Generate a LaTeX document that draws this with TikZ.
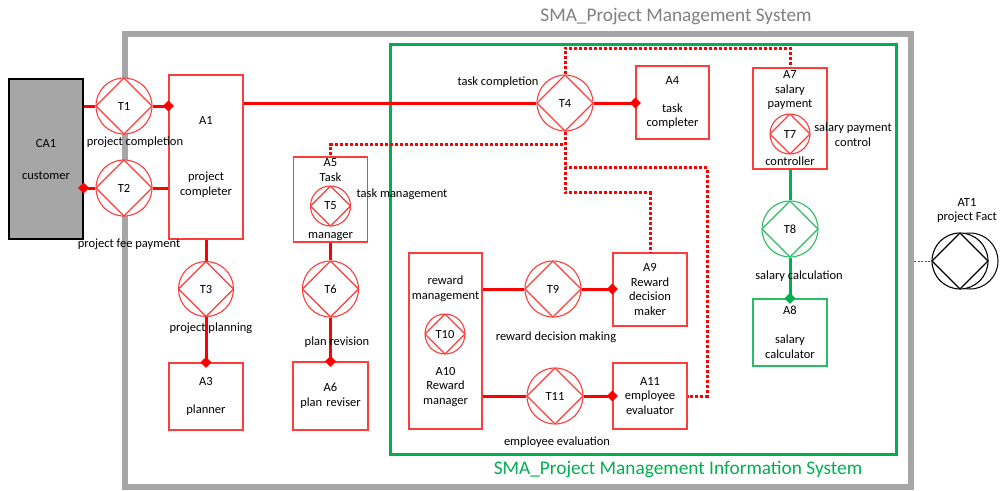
\documentclass[tikz,border=0pt]{standalone}
\usepackage{fontspec}
\setmainfont{Carlito}
\usetikzlibrary{arrows.meta}
\definecolor{sred}{RGB}{255,0,0}
\definecolor{bred}{RGB}{255,60,60}
\definecolor{sgreen}{RGB}{0,176,80}
\definecolor{lgreen}{RGB}{40,190,100}
\definecolor{sgray}{RGB}{166,166,166}
\definecolor{tgray}{RGB}{128,128,128}
\begin{document}
\begin{tikzpicture}[x=1pt,y=-1pt,
  font=\fontsize{12.5}{14.5}\selectfont,
  ent/.style={draw=bred, line width=1.1pt, fill=white, inner sep=0pt, align=center, text width=72pt},
  trans/.style={circle, draw=#1, line width=1.1pt, fill=white, inner sep=0pt,
    path picture={\draw[#1, line width=1.1pt] (path picture bounding box.north) -- (path picture bounding box.east) -- (path picture bounding box.south) -- (path picture bounding box.west) -- cycle;}},
  conn/.style={sred, line width=3pt},
  gconn/.style={sgreen, line width=3pt},
  dia/.style={-{Diamond[length=11pt,width=11pt]}, shorten >=-5.5pt},
  dotconn/.style={sred, line width=3pt, dash pattern=on 3pt off 2pt},
  lbl/.style={inner sep=0pt, align=center}]
\useasboundingbox (0,0) rectangle (1001,490);
% system boundaries
\draw[sgray, line width=6pt] (125,34) rectangle (911,487);
\draw[sgreen, line width=3pt] (390.5,44.5) rectangle (896.5,454);
\node[lbl, text=tgray, font=\fontsize{19.3}{22}\selectfont] (title) at (676,17) {SMA\_Project Management System};
\node[lbl, text=sgreen, font=\fontsize{19.3}{22}\selectfont] (gtitle) at (678,469) {SMA\_Project Management Information System};

% actor boxes
\node[draw=black, fill=sgray, line width=1.3pt, inner sep=0pt, align=center, minimum width=74pt, minimum height=160pt] (CA1) at (46,159) {CA1\\[17.5pt]customer};
\node[ent, minimum width=74pt, minimum height=164pt] (A1) at (206,157) {A1\\[41.5pt]project\\completer};
\node[ent, minimum width=74pt, minimum height=67pt] (A3) at (206,396.5) {A3\\[13.5pt]planner};
\node[ent, minimum width=75pt, minimum height=68pt] (A6) at (330.5,396) {A6\\plan reviser};
\node[ent, minimum width=73pt, minimum height=73pt] (A4) at (672.5,102.5) {A4\\[13.5pt]task\\completer};
\node[ent, minimum width=74pt, minimum height=85pt] (A5) at (330.5,199.5) {A5\\Task\\[42.5pt]manager};
\node[ent, minimum width=74pt, minimum height=101pt] (A7) at (790,118.5) {A7\\salary\\payment\\[43.5pt]controller};
\node[ent, draw=lgreen, minimum width=74pt, minimum height=67pt] (A8) at (790,332.5) {A8\\[14.5pt]salary\\calculator};
\node[ent, minimum width=74pt, minimum height=73pt] (A9) at (650,289.5) {A9\\Reward\\decision\\maker};
\node[ent, minimum width=73pt, minimum height=176pt] (A10) at (445.5,341) {reward\\management\\[61.5pt]A10\\Reward\\manager};
\node[ent, minimum width=74pt, minimum height=66pt] (A11) at (650,396) {A11\\employee\\evaluator};

% transactions
\node[trans=bred, minimum size=56pt] (T1) at (124,106) {T1};
\node[trans=bred, minimum size=56pt] (T2) at (124,188) {T2};
\node[trans=bred, minimum size=55pt] (T3) at (206,289) {T3};
\node[trans=bred, minimum size=56pt] (T4) at (565,103) {T4};
\node[trans=bred, minimum size=40pt] (T5) at (330.5,206) {T5};
\node[trans=bred, minimum size=56pt] (T6) at (330.5,289) {T6};
\node[trans=bred, minimum size=40pt] (T7) at (790,134) {T7};
\node[trans=lgreen, minimum size=56pt] (T8) at (790,229) {T8};
\node[trans=bred, minimum size=56pt] (T9) at (553,289) {T9};
\node[trans=bred, minimum size=40pt] (T10) at (445,334) {T10};
\node[trans=bred, minimum size=56pt] (T11) at (555,396) {T11};
\node[circle, draw=black, line width=1pt, inner sep=0pt, minimum size=56pt] (AT1b) at (970,261) {};
\node[trans=black, minimum size=56pt] (AT1) at (960,261) {};

% connectors
\draw[conn] (T1.west -| CA1.east) -- (T1.west);
\draw[conn, dia] (T1.east) -- (T1.east -| A1.west);
\draw[conn, dia] (T2.west) -- (T2.west -| CA1.east);
\draw[conn] (T2.east) -- (T2.east -| A1.west);
\draw[conn] (T4.west -| A1.east) -- (T4.west);
\draw[conn, dia] (T4.east) -- (T4.east -| A4.west);
\draw[conn] (A1.south) -- (T3.north);
\draw[conn, dia] (T3.south) -- (A3.north);
\draw[conn] (A5.south) -- (T6.north);
\draw[conn, dia] (T6.south) -- (A6.north);
\draw[conn] (T9.west -| A10.east) -- (T9.west);
\draw[conn, dia] (T9.east) -- (T9.east -| A9.west);
\draw[conn] (T11.west -| A10.east) -- (T11.west);
\draw[conn, dia] (T11.east) -- (T11.east -| A11.west);
\draw[gconn] (A7.south) -- (T8.north);
\draw[gconn, dia] (T8.south) -- (A8.north);
% dotted connectors
\draw[dotconn] (T4.north) -- ++(0,-26) -| (A7.north);
\draw[dotconn] (T4.south) -- ++(0,13) -| (A5.north);
\draw[dotconn] (T4.south) -- ++(0,61) -| (A9.north);
\draw[dotconn] (T4.south) -- ++(0,36) -- ++(142,0) |- (A11.east);
% dashed link to AT1
\coordinate (gb) at (914,261);
\draw[black!70, line width=0.5pt, dash pattern=on 2pt off 1.5pt] (gb) -- (AT1.west);

% labels
\node[lbl] (L1) at (135,142) {project completion};
\node[lbl] (L2) at (129,244) {project fee payment};
\node[lbl] (L3) at (211,328) {project planning};
\node[lbl] (L6) at (337,342) {plan revision};
\node[lbl] (L5) at (402,194) {task management};
\node[lbl] (L4) at (498,82) {task completion};
\node[lbl] (L7) at (853,134.5) {salary payment\\control};
\node[lbl] (L8) at (799,276) {salary calculation};
\node[lbl] (L9) at (556,337) {reward decision making};
\node[lbl] (L11) at (557,442) {employee evaluation};
\node[lbl] (LAT1) at (967,210.5) {AT1\\project Fact};
\end{tikzpicture}
\end{document}
